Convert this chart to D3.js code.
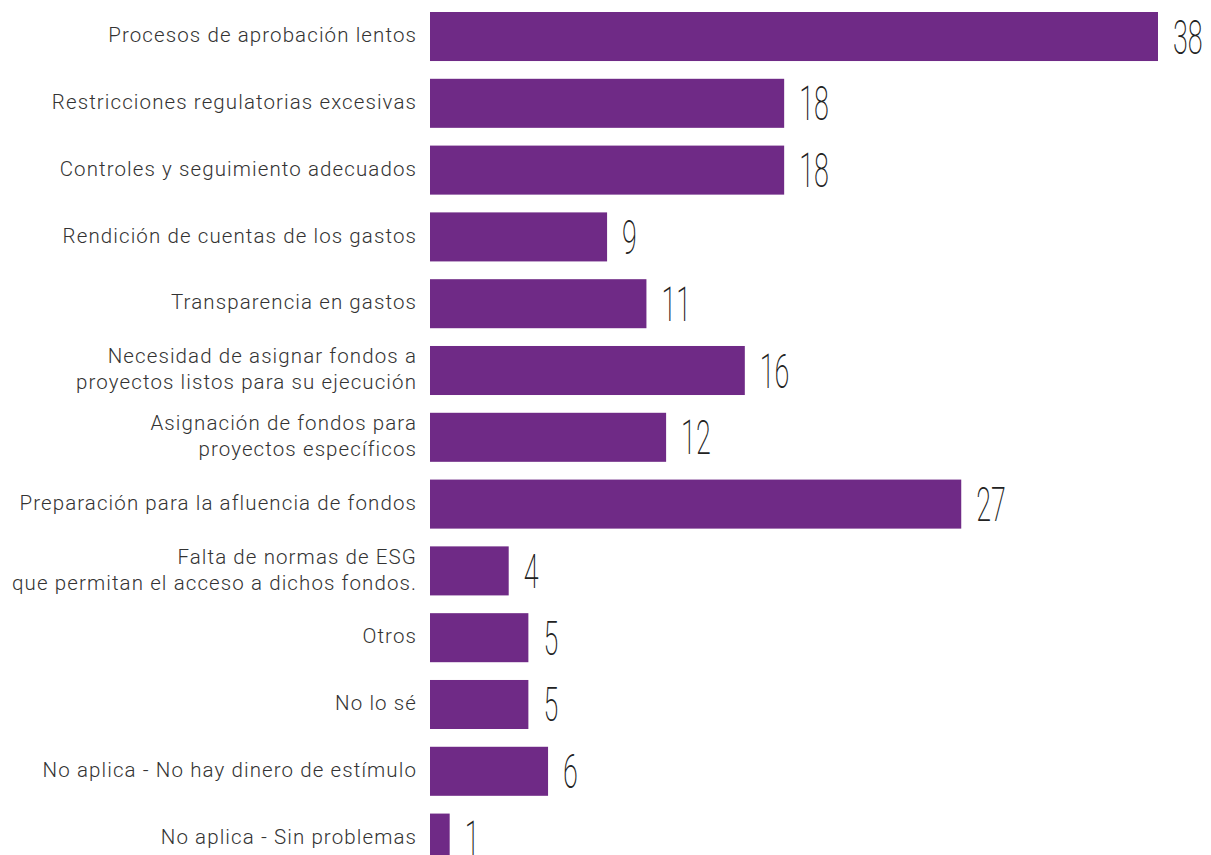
<!DOCTYPE html>
<html><head><meta charset="utf-8">
<script src="https://cdn.jsdelivr.net/npm/d3@7"></script>
<style>
html,body{margin:0;padding:0;background:#fff;overflow:hidden;}
</style></head>
<body>
<svg id="chart" width="1211" height="855"></svg>
<script>
const categories = [
  ["Procesos de aprobación lentos"],
  ["Restricciones regulatorias excesivas"],
  ["Controles y seguimiento adecuados"],
  ["Rendición de cuentas de los gastos"],
  ["Transparencia en gastos"],
  ["Necesidad de asignar fondos a", "proyectos listos para su ejecución"],
  ["Asignación de fondos para", "proyectos específicos"],
  ["Preparación para la afluencia de fondos"],
  ["Falta de normas de ESG", "que permitan el acceso a dichos fondos."],
  ["Otros"],
  ["No lo sé"],
  ["No aplica - No hay dinero de estímulo"],
  ["No aplica - Sin problemas"]
];
const values = [38, 18, 18, 9, 11, 16, 12, 27, 4, 5, 5, 6, 1];

const svg = d3.select("#chart");
// the longest bar is capped at the plot edge (as in the original)
const x = d3.scaleLinear().domain([0, 37]).range([430, 1158]).clamp(true);
const y = d3.scaleBand().domain(d3.range(categories.length))
  .range([12, 862.6]).paddingInner(0.266).paddingOuter(0);

svg.selectAll("rect.bar").data(values).join("rect")
  .attr("class", "bar")
  .attr("x", x(0))
  .attr("y", (d, i) => y(i))
  .attr("width", d => x(d) - x(0))
  .attr("height", y.bandwidth())
  .attr("fill", "#6f2a86");

const lab = svg.selectAll("text.cat").data(categories).join("text")
  .attr("class", "cat")
  .attr("text-anchor", "end")
  .attr("font-family", "Roboto, sans-serif")
  .attr("font-weight", 300)
  .attr("font-size", 20.5)
  .attr("letter-spacing", "1.1px")
  .attr("fill", "#333");
lab.each(function(lines, i) {
  const cy = y(i) + y.bandwidth() / 2 - 1.5;
  const lh = 26;
  const start = cy - (lines.length - 1) * lh / 2;
  d3.select(this).selectAll("tspan").data(lines).join("tspan")
    .attr("x", 417)
    .attr("y", (l, j) => start + j * lh)
    .attr("dy", "0.35em")
    .text(l => l);
});

svg.selectAll("text.val").data(values).join("text")
  .attr("class", "val")
  .attr("transform", (d, i) => `translate(${x(d) + 15},${y(i) + y.bandwidth() / 2 + 17}) scale(0.56,1)`)
  .attr("font-family", "Roboto, sans-serif")
  .attr("font-weight", 200)
  .attr("font-size", 48)
  .attr("fill", "#222")
  .text(d => d);
</script>
</body></html>
